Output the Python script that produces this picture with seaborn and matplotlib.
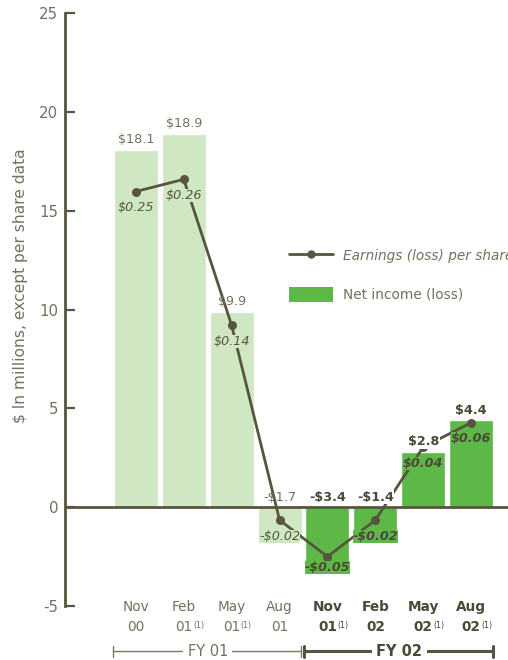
import numpy as np
import pandas as pd
import matplotlib
matplotlib.use("Agg")
import matplotlib.pyplot as plt
import seaborn as sns
from matplotlib.transforms import blended_transform_factory
from matplotlib.lines import Line2D
from matplotlib.patches import Patch

# ---- data -------------------------------------------------------------
months = ["Nov", "Feb", "May", "Aug", "Nov", "Feb", "May", "Aug"]
years = ["00", "01", "01", "01", "01", "02", "02", "02"]
footnote = [False, True, True, False, True, False, True, True]
fiscal_year = ["FY 01"] * 4 + ["FY 02"] * 4
net_income = [18.1, 18.9, 9.9, -1.7, -3.4, -1.4, 2.8, 4.4]
eps = [0.25, 0.26, 0.14, -0.02, -0.05, -0.02, 0.04, 0.06]
y_ticks = [-5, 0, 5, 10, 15, 20, 25]
fy_names = ["FY 01", "FY 02"]

# ---- style ------------------------------------------------------------
sns.set_style("white")
plt.rcParams["font.family"] = ["DejaVu Sans"]
plt.rcParams["axes.unicode_minus"] = False

LIGHT = "#cfe7c3"
DARK = "#5db847"
INK = "#575540"
GREY = "#72715e"
BOLD_INK = "#4a4936"
bar_colors = {"FY 01": LIGHT, "FY 02": DARK}

df = pd.DataFrame({
    "quarter": [f"{m} {y}" for m, y in zip(months, years)],
    "net": net_income,
    "fy": fiscal_year,
})
pos = np.arange(len(df))

fig = plt.figure(figsize=(5.08, 6.60), dpi=100)
W, H = 508, 660
ax = fig.add_axes([65 / W, 1 - 606 / H, (W - 65) / W, (606 - 13.3) / H])

sns.barplot(data=df, x="quarter", y="net", hue="fy", palette=bar_colors,
            dodge=False, width=0.92, saturation=1, legend=False, ax=ax,
            zorder=1)

ax.set_ylim(-5, 25)
ax.set_xlim(-1.48, 7.77)
ax.set_yticks(y_ticks)
ax.set_xticks([])
ax.set_xlabel("")
ax.set_ylabel("$ In millions, except per share data", fontsize=11.2,
              color=GREY)
ax.yaxis.set_label_coords(-0.101, 0.54)
ax.yaxis.label.set_verticalalignment("center")
for s in ("top", "right", "bottom"):
    ax.spines[s].set_visible(False)
ax.spines["left"].set_color(INK)
ax.spines["left"].set_linewidth(2)
ax.tick_params(axis="y", direction="in", length=7.5, width=1.6, color=INK,
               labelsize=10.8, labelcolor=GREY, pad=5)
ax.axhline(0, color=INK, lw=2, zorder=3)

# ---- earnings per share on a hidden secondary scale -------------------
eps_per_unit = 61.6
eps_offset = 0.58
ax2 = ax.twinx()
sns.lineplot(x=pos, y=eps, ax=ax2, color=INK, lw=2, marker="o",
             markersize=6.5, markeredgewidth=0, zorder=4)
ax2.set_ylim((-5 - eps_offset) / eps_per_unit, (25 - eps_offset) / eps_per_unit)
ax2.axis("off")

# ---- value labels -----------------------------------------------------
def money(v, fmt):
    s = format(abs(v), fmt)
    return ("-$" if v < 0 else "$") + s

low_idx = int(np.argmin(eps))
for i, (v, e, fy) in enumerate(zip(net_income, eps, fiscal_year)):
    second = fy == fy_names[1]
    kw = dict(fontweight="bold", color=BOLD_INK) if second else dict(color=GREY)
    bb = dict(boxstyle="square,pad=0.05", fc="white", ec="none") if second else None
    ax2.annotate(money(v, ".1f"), xy=(i, max(v, 0)), xycoords=ax.transData,
                 xytext=(0, 2.5), textcoords="offset points", ha="center",
                 va="bottom", fontsize=9.2, bbox=bb, zorder=6, **kw)

    dy = -7.5 if i == low_idx else -11.5
    ekw = dict(fontweight="bold", color=BOLD_INK) if second else dict(color=INK)
    ax2.annotate(money(e, ".2f"), xy=(i, e), xytext=(0, dy),
                 textcoords="offset points", ha="center", va="center",
                 fontsize=9.2, style="italic", zorder=6,
                 bbox=dict(boxstyle="square,pad=0.0", fc=bar_colors[fy],
                           ec="none"), **ekw)

# ---- category labels and fiscal-year brackets --------------------------
tr = blended_transform_factory(ax.transData, fig.transFigure)
for i, (m, y, fn, fy) in enumerate(zip(months, years, footnote, fiscal_year)):
    second = fy == fy_names[1]
    kw = dict(fontweight="bold", color=BOLD_INK) if second else dict(color=GREY)
    fig.text(i, 1 - 607 / H, m, transform=tr, ha="center", va="center",
             fontsize=9.8, **kw)
    t = fig.text(i, 1 - 627 / H, y, transform=tr, ha="center", va="center",
                 fontsize=9.8, **kw)
    if fn:
        ax.annotate("(1)", xy=(1, 0.62), xycoords=t, xytext=(0.4, 0),
                    textcoords="offset points", ha="left", va="center",
                    fontsize=5.8, color=kw["color"], annotation_clip=False)

y_br = 1 - 651 / H
for k, name in enumerate(fy_names):
    idx = [i for i, f in enumerate(fiscal_year) if f == name]
    x0, x1 = idx[0] - 0.48, idx[-1] + 0.45
    second = k == 1
    col = INK if second else "#7b7a67"
    lw = 2.2 if second else 1.0
    fig.add_artist(Line2D([x0, x1], [y_br, y_br], transform=tr, color=col, lw=lw))
    for xe in (x0, x1):
        fig.add_artist(Line2D([xe, xe], [y_br - 5.5 / H, y_br + 5.5 / H],
                              transform=tr, color=col, lw=lw))
    fig.text((idx[0] + idx[-1]) / 2, y_br, name, transform=tr, ha="center",
             va="center", fontsize=10.5, color=BOLD_INK if second else GREY,
             fontweight="bold" if second else "normal",
             bbox=dict(boxstyle="square,pad=0.3", fc="white", ec="none"))

# ---- legend -----------------------------------------------------------
handles = [Line2D([], [], color=INK, lw=2, marker="o", markersize=6,
                  markeredgewidth=0),
           Patch(facecolor=DARK, edgecolor="none")]
leg = ax2.legend(handles, ["Earnings (loss) per share", "Net income (loss)"],
                 loc="upper left", bbox_to_anchor=(289 / W, 1 - 248 / H),
                 bbox_transform=fig.transFigure, frameon=False, borderpad=0,
                 borderaxespad=0, handlelength=3.25, handleheight=1.3,
                 handletextpad=0.75, labelspacing=1.75, fontsize=9.8)
for txt in leg.get_texts():
    txt.set_color(GREY)
leg.get_texts()[0].set_style("italic")

fig.savefig("out.png", dpi=100)
